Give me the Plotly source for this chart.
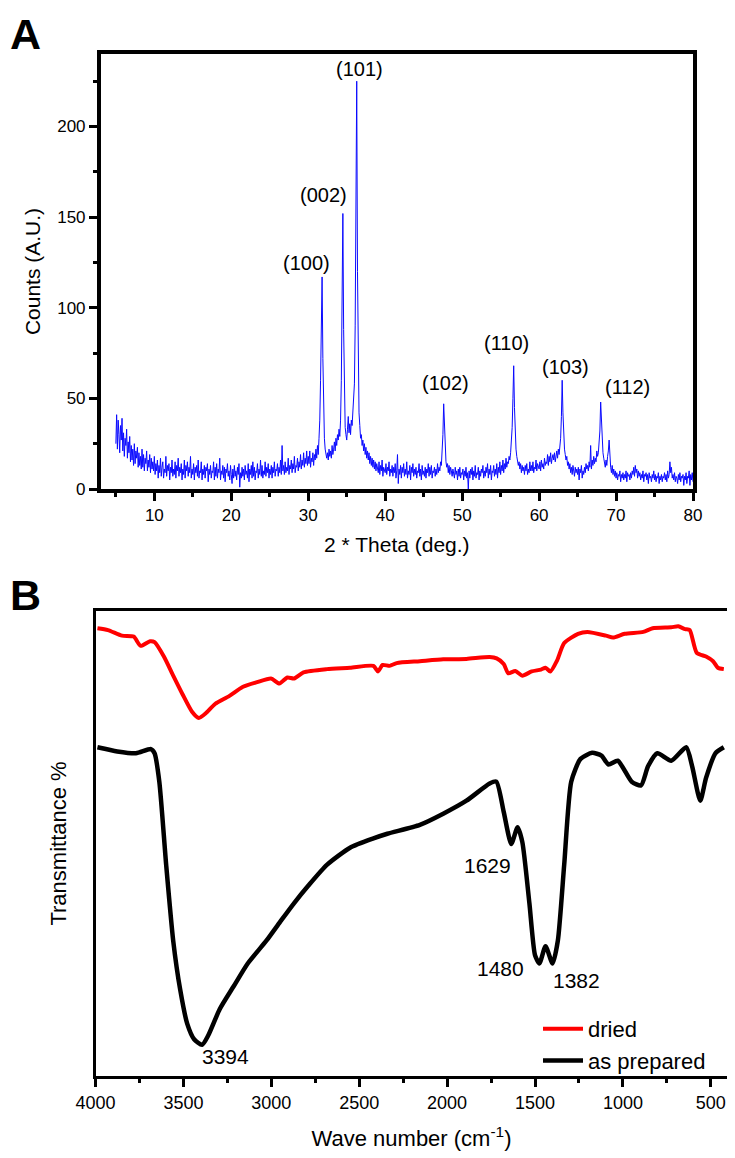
import plotly.graph_objects as go

# ---------------- Panel A: XRD ----------------
# counts; 2-theta scan from 5.0 to 80.0 deg in 0.1 deg steps
counts_05 = [25, 41, 22, 38, 30, 20, 35, 27, 39, 21,
             31, 18, 28, 24, 33, 17, 26, 20, 29, 15,
             24, 16, 22, 13, 25, 14, 21, 17, 23, 12,
             20, 13, 18, 11, 22, 12, 19, 10, 17, 14,
             21, 10, 16, 12, 19, 9, 17, 11, 15, 10]
counts_10 = [18, 8, 14, 10, 16, 6, 13, 9, 17, 7,
             12, 15, 6, 11, 9, 18, 7, 13, 10, 14,
             5, 12, 9, 16, 7, 11, 8, 15, 6, 13,
             10, 17, 7, 12, 9, 14, 5, 11, 8, 16,
             6, 13, 10, 15, 7, 12, 9, 18, 6, 11]
counts_15 = [8, 14, 5, 12, 9, 13, 7, 16, 6, 10,
             9, 15, 5, 11, 8, 13, 6, 12, 10, 14,
             4, 11, 8, 13, 6, 10, 9, 15, 5, 12,
             7, 14, 6, 11, 9, 17, 5, 10, 8, 13,
             6, 12, 4, 11, 9, 14, 7, 10, 5, 13]
counts_20 = [8, 3, 11, 6, 13, 7, 10, 5, 12, 8,
             14, 1, 9, 6, 12, 7, 11, 5, 13, 8,
             10, 6, 14, 4, 11, 8, 13, 6, 15, 7,
             12, 5, 10, 9, 14, 6, 11, 8, 16, 7,
             13, 6, 10, 8, 15, 7, 12, 9, 14, 6]
counts_25 = [11, 8, 13, 6, 12, 9, 15, 7, 11, 10,
             14, 7, 12, 9, 16, 8, 24, 10, 13, 8,
             15, 9, 12, 10, 17, 8, 13, 11, 16, 9,
             14, 11, 18, 9, 13, 12, 17, 10, 15, 12,
             19, 11, 16, 13, 20, 12, 17, 14, 21, 13]
counts_30 = [18, 14, 21, 12, 17, 15, 20, 13, 19, 16,
             22, 17, 24, 19, 28, 38, 60, 90, 117, 72,
             40, 28, 22, 19, 17, 20, 16, 22, 18, 21,
             17, 24, 19, 22, 26, 21, 28, 24, 30, 27,
             33, 29, 38, 60, 110, 152, 88, 45, 34, 30]
counts_35 = [27, 33, 40, 31, 36, 30, 38, 35, 42, 48,
             58, 90, 160, 225, 120, 62, 42, 35, 28, 30,
             24, 27, 21, 25, 19, 23, 17, 21, 16, 20,
             14, 18, 13, 17, 12, 16, 11, 15, 10, 14,
             12, 9, 15, 8, 13, 10, 16, 7, 12, 11]
counts_40 = [9, 14, 8, 12, 10, 15, 7, 11, 9, 13,
             7, 12, 9, 14, 6, 10, 19, 3, 11, 8,
             13, 6, 12, 9, 14, 7, 11, 8, 15, 6,
             10, 8, 13, 5, 12, 9, 14, 7, 11, 8,
             12, 6, 10, 9, 14, 7, 11, 5, 13, 8]
counts_45 = [10, 7, 12, 6, 11, 9, 14, 7, 12, 8,
             13, 6, 10, 9, 12, 7, 11, 8, 14, 9,
             12, 10, 15, 13, 20, 30, 47, 32, 20, 15,
             12, 14, 9, 13, 8, 12, 10, 7, 11, 9,
             6, 12, 8, 10, 5, 11, 7, 12, 6, 9]
counts_50 = [8, 11, 5, 10, 7, 12, 6, 9, 0, 10,
             6, 11, 8, 12, 5, 10, 7, 13, 6, 9,
             8, 12, 5, 10, 7, 11, 9, 13, 6, 10,
             7, 12, 9, 14, 6, 11, 8, 13, 5, 10,
             9, 13, 7, 11, 8, 14, 6, 12, 9, 15]
counts_55 = [8, 13, 10, 16, 9, 14, 11, 17, 12, 15,
             14, 18, 16, 20, 26, 34, 50, 68, 45, 30,
             22, 18, 16, 13, 15, 11, 14, 9, 13, 10,
             12, 8, 13, 10, 14, 8, 11, 9, 15, 10,
             13, 10, 15, 9, 12, 11, 16, 10, 14, 12]
counts_60 = [11, 15, 10, 16, 12, 14, 11, 17, 13, 15,
             14, 19, 13, 18, 15, 20, 14, 17, 19, 16,
             20, 15, 18, 21, 17, 22, 19, 24, 28, 40,
             60, 42, 30, 22, 19, 16, 18, 13, 15, 11,
             14, 9, 12, 8, 13, 10, 7, 12, 9, 11]
counts_65 = [8, 12, 5, 11, 9, 13, 6, 10, 8, 12,
             9, 14, 11, 13, 10, 15, 12, 24, 11, 16,
             13, 18, 14, 17, 15, 21, 18, 20, 25, 32,
             48, 36, 26, 20, 17, 15, 12, 16, 13, 18,
             21, 27, 15, 12, 9, 13, 8, 11, 7, 10]
counts_70 = [6, 9, 5, 8, 7, 10, 4, 8, 6, 9,
             5, 8, 6, 10, 4, 9, 7, 8, 5, 9,
             6, 10, 8, 12, 7, 13, 9, 11, 6, 10,
             7, 9, 5, 8, 6, 10, 4, 8, 7, 9,
             5, 8, 3, 9, 6, 7, 4, 8, 6, 10]
counts_75 = [5, 8, 4, 7, 6, 9, 3, 7, 5, 8,
             4, 7, 6, 9, 5, 8, 4, 10, 6, 8,
             15, 9, 12, 6, 8, 5, 9, 4, 7, 6,
             3, 8, 5, 9, 4, 7, 6, 8, 2, 7,
             5, 9, 3, 7, 6, 10, 2, 8, 5, 9]
counts_80 = [4]

counts = (counts_05 + counts_10 + counts_15 + counts_20 + counts_25 + counts_30 +
          counts_35 + counts_40 + counts_45 + counts_50 + counts_55 + counts_60 +
          counts_65 + counts_70 + counts_75 + counts_80)
two_theta = [round(5.0 + 0.1 * i, 1) for i in range(len(counts))]

peak_labels = ["(100)", "(002)", "(101)", "(102)", "(110)", "(103)", "(112)"]
peak_label_x = [29.8, 32.0, 36.7, 47.9, 55.7, 63.4, 71.5]
peak_label_y = [124.7, 162, 232, 58.3, 80.6, 67.4, 56.3]

# ---------------- Panel B: FTIR ----------------
dried_wn = [3989, 3929, 3849, 3783, 3743, 3690, 3664, 3611, 3558, 3505, 3452, 3412, 3373, 3320,
            3240, 3161, 3081, 3002, 2954, 2909, 2870, 2817, 2684, 2552, 2419, 2393, 2367, 2327,
            2287, 2155, 2022, 1890, 1758, 1718, 1678, 1652, 1612, 1572, 1519, 1466, 1440, 1413,
            1374, 1334, 1255, 1202, 1096, 1056, 990, 884, 831, 725, 685, 646, 620, 580, 527,
            487, 460, 426]
dried_t = [96.3, 95.9, 94.7, 94.5, 92.5, 93.5, 93.3, 90.2, 86.1, 82.1, 78.4, 77.0, 78.0, 80.0,
           81.7, 83.7, 84.7, 85.5, 84.4, 85.7, 85.5, 86.8, 87.5, 87.8, 88.2, 87.0, 88.4, 88.2,
           88.8, 89.2, 89.6, 89.7, 90.1, 89.8, 88.6, 86.6, 87.1, 86.1, 87.0, 87.4, 87.8, 87.0,
           89.4, 93.1, 95.1, 95.5, 94.7, 94.3, 95.1, 95.5, 96.3, 96.5, 96.7, 96.1, 95.9, 91.0,
           90.2, 89.2, 87.8, 87.5]

prep_wn = [3989, 3876, 3770, 3685, 3664, 3637, 3598, 3558, 3518, 3478, 3439, 3394, 3359, 3293,
           3214, 3134, 3028, 2949, 2870, 2790, 2684, 2552, 2419, 2340, 2155, 2022, 1890, 1758,
           1720, 1678, 1635, 1599, 1572, 1532, 1500, 1475, 1440, 1400, 1370, 1334, 1294, 1241,
           1175, 1122, 1082, 1029, 950, 897, 857, 804, 725, 640, 606, 560, 527, 474, 426]
prep_t = [70.7, 69.8, 69.4, 70.3, 69.4, 63.3, 45.4, 29.1, 18.5, 11.2, 7.9, 6.7, 8.7, 14.4,
          19.3, 24.2, 29.1, 33.2, 37.2, 40.9, 45.4, 49.1, 51.1, 52.1, 54.0, 56.4, 59.2, 62.9,
          63.3, 56.8, 49.9, 53.5, 50.3, 37.2, 26.0, 24.2, 27.9, 24.2, 29.1, 45.4, 63.3, 68.2,
          69.5, 68.9, 67.0, 67.8, 63.3, 62.5, 66.6, 69.4, 67.8, 70.7, 66.6, 59.2, 64.1, 69.4, 70.7]

band_labels = ["3394", "1629", "1480", "1382"]
band_label_x = [3261, 1771, 1699, 1262]
band_label_y = [4.1, 45.2, 23.2, 20.5]

FONT = "Liberation Sans, Arial, sans-serif"

# The page body has an 8px margin, so the figure is sized to fit the window after it.
PAGE_OFF = 8
W = 735 - PAGE_OFF
H = 1158 - PAGE_OFF


def px(xp):
    return (xp - PAGE_OFF) / W


def py(yp):
    return 1 - (yp - PAGE_OFF) / H


fig = go.Figure()

fig.add_trace(go.Scatter(x=two_theta, y=counts, mode="lines", xaxis="x", yaxis="y",
                         line=dict(color="#0a0aff", width=1.0), showlegend=False))

fig.add_trace(go.Scatter(x=dried_wn, y=dried_t, mode="lines", xaxis="x2", yaxis="y2",
                         name="dried", line=dict(color="#ff0000", width=4, shape="spline", smoothing=0.6)))
fig.add_trace(go.Scatter(x=prep_wn, y=prep_t, mode="lines", xaxis="x2", yaxis="y2",
                         name="as prepared", line=dict(color="#000000", width=4.5, shape="spline", smoothing=0.6)))

annotations = []
for t, x, y in zip(peak_labels, peak_label_x, peak_label_y):
    annotations.append(dict(text=t, x=x, y=y, xref="x", yref="y", showarrow=False,
                            font=dict(size=20, color="black", family=FONT)))
for t, x, y in zip(band_labels, band_label_x, band_label_y):
    annotations.append(dict(text=t, x=x, y=y, xref="x2", yref="y2", showarrow=False,
                            font=dict(size=21, color="black", family=FONT)))
annotations.append(dict(text="<b>A</b>", x=0, y=1, xref="paper", yref="paper",
                        xanchor="left", yanchor="top", showarrow=False,
                        font=dict(size=43, color="black", family=FONT)))
annotations.append(dict(text="<b>B</b>", x=0, y=py(569), xref="paper", yref="paper",
                        xanchor="left", yanchor="top", showarrow=False,
                        font=dict(size=43, color="black", family=FONT)))

fig.update_layout(
    width=W, height=H,
    margin=dict(l=0, r=0, t=0, b=0, autoexpand=False),
    paper_bgcolor="white", plot_bgcolor="white",
    font=dict(family=FONT, color="black"),
    annotations=annotations,
    xaxis=dict(domain=[px(100.7), px(693)], anchor="y", range=[3.03, 80], automargin=False,
               tick0=0, dtick=10, ticks="outside", ticklen=8, tickwidth=3, tickcolor="black",
               minor=dict(ticks="outside", ticklen=4, tickwidth=3, dtick=5, tick0=5, tickcolor="black"),
               showline=True, linewidth=3.5, linecolor="black", mirror=True,
               showgrid=False, zeroline=False, tickfont=dict(size=17),
               title=dict(text="2 * Theta (deg.)", font=dict(size=21), standoff=14)),
    yaxis=dict(domain=[py(489), py(54)], anchor="x", range=[0, 240], automargin=False,
               tick0=0, dtick=50, ticks="outside", ticklen=8, tickwidth=3, tickcolor="black",
               minor=dict(ticks="outside", ticklen=4, tickwidth=3, dtick=25, tick0=25, tickcolor="black"),
               showline=True, linewidth=3.5, linecolor="black", mirror=True,
               showgrid=False, zeroline=False, tickfont=dict(size=17),
               title=dict(text="Counts (A.U.)", font=dict(size=21), standoff=12)),
    xaxis2=dict(domain=[px(95.5), px(727.5)], anchor="y2", range=[4000, 405], automargin=False,
                tick0=0, dtick=500, ticks="outside", ticklen=8, tickwidth=2.5, tickcolor="black",
                minor=dict(ticks="outside", ticklen=4, tickwidth=2.5, dtick=250, tick0=250, tickcolor="black"),
                showline=True, linewidth=3, linecolor="black", mirror=True,
                showgrid=False, zeroline=False, tickfont=dict(size=18),
                title=dict(text="Wave number (cm<sup>-1</sup>)", font=dict(size=22), standoff=20)),
    yaxis2=dict(domain=[py(1076), py(611)], anchor="x2", range=[0, 100], automargin=False,
                showticklabels=False, ticks="",
                showline=True, linewidth=3, linecolor="black", mirror=True,
                showgrid=False, zeroline=False,
                title=dict(text="Transmittance %", font=dict(size=22), standoff=20)),
    legend=dict(x=px(538), y=py(1008), xanchor="left", yanchor="top",
                xref="paper", yref="paper", bgcolor="rgba(0,0,0,0)",
                font=dict(size=22), tracegroupgap=0, itemwidth=40),
)

fig.write_html("out.html")
